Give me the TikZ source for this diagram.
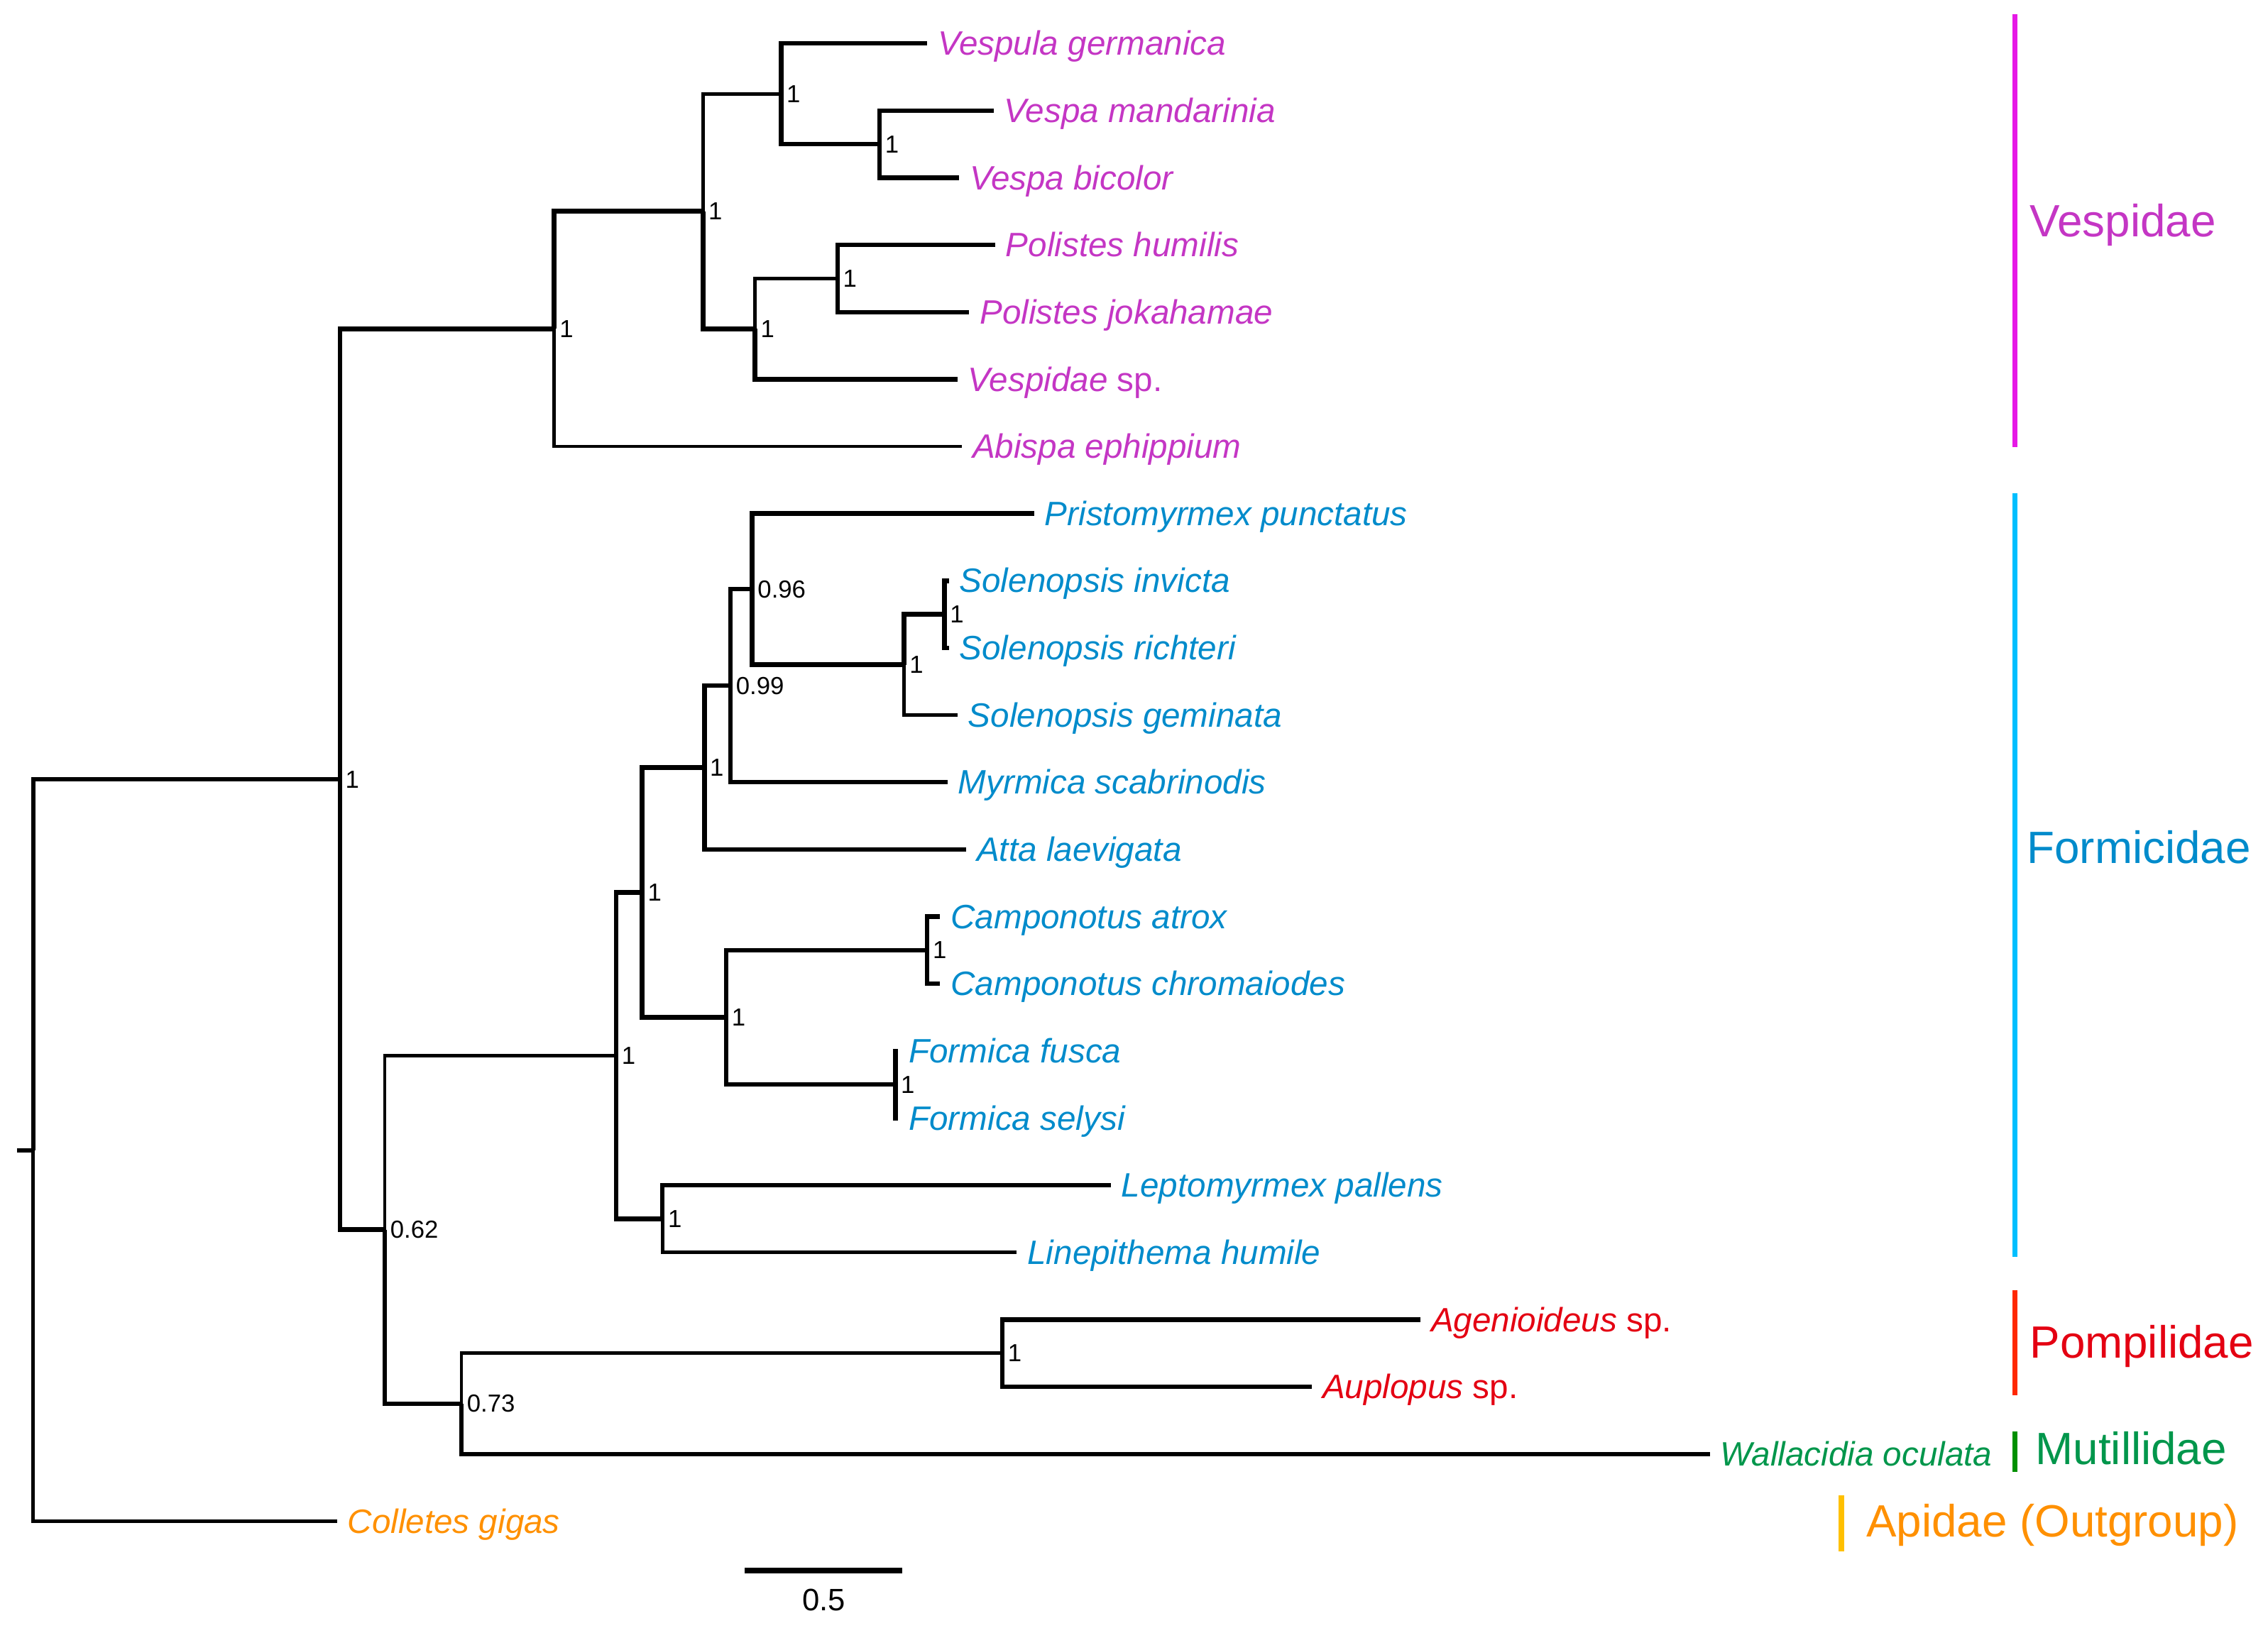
\documentclass[tikz,border=0pt]{standalone}
\usepackage{fontspec}
\setmainfont{Liberation Sans}
\usepackage{tikz}
\usepackage{xcolor}
\usetikzlibrary{
    positioning,
    calc
}
\definecolor{vesp}{RGB}{196,54,196}
\definecolor{vespbar}{RGB}{230,25,230}
\definecolor{form}{RGB}{0,139,203}
\definecolor{formbar}{RGB}{0,191,255}
\definecolor{pomp}{RGB}{228,0,18}
\definecolor{pompbar}{RGB}{255,40,0}
\definecolor{muti}{RGB}{0,150,75}
\definecolor{mutibar}{RGB}{0,144,0}
\definecolor{apid}{RGB}{255,144,0}
\definecolor{apidbar}{RGB}{255,192,0}

\begin{document}
\begin{tikzpicture}[x=0.02cm, y=-0.02cm,
                        br/.style={line width=1.8pt},
                        brthin/.style={line width=1.35pt},
                        taxon/.style={font=\fontsize{13.3}{16}\selectfont\itshape, inner sep=0pt, text height=10.6pt, text depth=1.3pt},
                        supp/.style={font=\fontsize{9.7}{11}\selectfont, inner sep=0pt},
                        clade/.style={font=\fontsize{17.8}{21}\selectfont, inner sep=0pt, anchor=west, text height=14.2pt, text depth=1.8pt},
                        cbar/.style={line width=2.1pt}]
                        \useasboundingbox (0,0) rectangle (1568,1129);

                        \coordinate (rootstem) at (12,795.4);
                        \coordinate (root) at (23,795.4);
                        \coordinate (nA) at (235,538.9);
                        \coordinate (nV) at (383,227.4);
                        \coordinate (nV1) at (486,146.1);
                        \coordinate (nV2) at (540,64.9);
                        \coordinate (nVespa) at (608,99.7);
                        \coordinate (nV3) at (522,227.4);
                        \coordinate (nPol) at (579,192.6);
                        \coordinate (nB) at (266,850.3);
                        \coordinate (nF) at (426,730);
                        \coordinate (nC) at (444,617.2);
                        \coordinate (nD) at (487,530.8);
                        \coordinate (nE) at (505,474.2);
                        \coordinate (nG) at (520,407.4);
                        \coordinate (nSol) at (625,459.7);
                        \coordinate (nSol2) at (653,424.8);
                        \coordinate (nI) at (502,703.5);
                        \coordinate (nCam) at (641,657.1);
                        \coordinate (nFor) at (619,750);
                        \coordinate (nJ) at (458,842.9);
                        \coordinate (nP) at (319,970.6);
                        \coordinate (nPom) at (693,935.8);

                        \coordinate (tVg) at (641,30);
                        \coordinate (tVm) at (687,76.45);
                        \coordinate (tVb) at (663,122.9);
                        \coordinate (tPh) at (688,169.35);
                        \coordinate (tPj) at (670,215.8);
                        \coordinate (tVs) at (662,262.25);
                        \coordinate (tAe) at (665,308.7);
                        \coordinate (tPp) at (715,355.15);
                        \coordinate (tSi) at (656,401.6);
                        \coordinate (tSr) at (656,448.05);
                        \coordinate (tSg) at (662,494.5);
                        \coordinate (tMs) at (655,540.95);
                        \coordinate (tAl) at (668,587.4);
                        \coordinate (tCa) at (650,633.85);
                        \coordinate (tCc) at (650,680.3);
                        \coordinate (tFf) at (621,726.75);
                        \coordinate (tFs) at (621,773.2);
                        \coordinate (tLp) at (768,819.65);
                        \coordinate (tLh) at (703,866.1);
                        \coordinate (tAg) at (982,912.55);
                        \coordinate (tAu) at (907,959);
                        \coordinate (tWo) at (1182,1005.45);
                        \coordinate (tCg) at (233,1051.9);

                        \draw[br] (rootstem) -- (root);
                        \draw[br] (root) |- (nA);
                        \draw[brthin] (root) |- (tCg);
                        \draw[br] (nA) |- (nV);
                        \draw[br] (nA) |- (nB);
                        \draw[br] (nV) |- (nV1);
                        \draw[brthin] (nV) |- (tAe);
                        \draw[brthin] (nV1) |- (nV2);
                        \draw[br] (nV1) |- (nV3);
                        \draw[br] (nV2) |- (tVg);
                        \draw[br] (nV2) |- (nVespa);
                        \draw[br] (nVespa) |- (tVm);
                        \draw[br] (nVespa) |- (tVb);
                        \draw[brthin] (nV3) |- (nPol);
                        \draw[br] (nV3) |- (tVs);
                        \draw[br] (nPol) |- (tPh);
                        \draw[br] (nPol) |- (tPj);
                        \draw[brthin] (nB) |- (nF);
                        \draw[br] (nB) |- (nP);
                        \draw[br] (nF) |- (nC);
                        \draw[br] (nF) |- (nJ);
                        \draw[br] (nC) |- (nD);
                        \draw[br] (nC) |- (nI);
                        \draw[br] (nD) |- (nE);
                        \draw[br] (nD) |- (tAl);
                        \draw[br] (nE) |- (nG);
                        \draw[br] (nE) |- (tMs);
                        \draw[br] (nG) |- (tPp);
                        \draw[br] (nG) |- (nSol);
                        \draw[br] (nSol) |- (nSol2);
                        \draw[brthin] (nSol) |- (tSg);
                        \draw[br] (nSol2) |- (tSi);
                        \draw[br] (nSol2) |- (tSr);
                        \draw[br] (nI) |- (nCam);
                        \draw[br] (nI) |- (nFor);
                        \draw[br] (nCam) |- (tCa);
                        \draw[br] (nCam) |- (tCc);
                        \draw[br] (nFor) |- (tFf);
                        \draw[br] (nFor) |- (tFs);
                        \draw[br] (nJ) |- (tLp);
                        \draw[brthin] (nJ) |- (tLh);
                        \draw[brthin] (nP) |- (nPom);
                        \draw[br] (nP) |- (tWo);
                        \draw[br] (nPom) |- (tAg);
                        \draw[br] (nPom) |- (tAu);

                        \node[supp, right=2pt of nA] (sA) {1};
                        \node[supp, right=2pt of nV] (sV) {1};
                        \node[supp, right=2pt of nV1] (sV1) {1};
                        \node[supp, right=2pt of nV2] (sV2) {1};
                        \node[supp, right=2pt of nVespa] (sVespa) {1};
                        \node[supp, right=2pt of nV3] (sV3) {1};
                        \node[supp, right=2pt of nPol] (sPol) {1};
                        \node[supp, right=2pt of nB] (sB) {0.62};
                        \node[supp, right=2pt of nF] (sF) {1};
                        \node[supp, right=2pt of nC] (sC) {1};
                        \node[supp, right=2pt of nD] (sD) {1};
                        \node[supp, right=2pt of nE] (sE) {0.99};
                        \node[supp, right=2pt of nG] (sG) {0.96};
                        \node[supp, right=2pt of nSol] (sSol) {1};
                        \node[supp, right=2pt of nSol2] (sSol2) {1};
                        \node[supp, right=2pt of nI] (sI) {1};
                        \node[supp, right=2pt of nCam] (sCam) {1};
                        \node[supp, right=2pt of nFor] (sFor) {1};
                        \node[supp, right=2pt of nJ] (sJ) {1};
                        \node[supp, right=2pt of nP] (sP) {0.73};
                        \node[supp, right=2pt of nPom] (sPom) {1};

                        \node[taxon, text=vesp, right=4pt of tVg] (Vg) {Vespula germanica};
                        \node[taxon, text=vesp, right=4pt of tVm] (Vm) {Vespa mandarinia};
                        \node[taxon, text=vesp, right=4pt of tVb] (Vb) {Vespa bicolor};
                        \node[taxon, text=vesp, right=4pt of tPh] (Ph) {Polistes humilis};
                        \node[taxon, text=vesp, right=4pt of tPj] (Pj) {Polistes jokahamae};
                        \node[taxon, text=vesp, right=4pt of tVs] (Vs) {Vespidae \upshape sp.};
                        \node[taxon, text=vesp, right=4pt of tAe] (Ae) {Abispa ephippium};
                        \node[taxon, text=form, right=4pt of tPp] (Pp) {Pristomyrmex punctatus};
                        \node[taxon, text=form, right=4pt of tSi] (Si) {Solenopsis invicta};
                        \node[taxon, text=form, right=4pt of tSr] (Sr) {Solenopsis richteri};
                        \node[taxon, text=form, right=4pt of tSg] (Sg) {Solenopsis geminata};
                        \node[taxon, text=form, right=4pt of tMs] (Ms) {Myrmica scabrinodis};
                        \node[taxon, text=form, right=4pt of tAl] (Al) {Atta laevigata};
                        \node[taxon, text=form, right=4pt of tCa] (Ca) {Camponotus atrox};
                        \node[taxon, text=form, right=4pt of tCc] (Cc) {Camponotus chromaiodes};
                        \node[taxon, text=form, right=4pt of tFf] (Ff) {Formica fusca};
                        \node[taxon, text=form, right=4pt of tFs] (Fs) {Formica selysi};
                        \node[taxon, text=form, right=4pt of tLp] (Lp) {Leptomyrmex pallens};
                        \node[taxon, text=form, right=4pt of tLh] (Lh) {Linepithema humile};
                        \node[taxon, text=pomp, right=4pt of tAg] (Ag) {Agenioideus \upshape sp.};
                        \node[taxon, text=pomp, right=4pt of tAu] (Au) {Auplopus \upshape sp.};
                        \node[taxon, text=muti, right=4pt of tWo] (Wo) {Wallacidia oculata};
                        \node[taxon, text=apid, right=4pt of tCg] (Cg) {Colletes gigas};

                        \draw[cbar, vespbar] (1393,10) -- (1393,309);
                        \draw[cbar, formbar] (1393,341) -- (1393,869);
                        \draw[cbar, pompbar] (1393,892) -- (1393,965);
                        \draw[cbar, mutibar] (1393,990) -- (1393,1018);
                        \draw[cbar, apidbar] (1273,1034) -- (1273,1073);

                        \node[clade, text=vesp] (Vespidae) at (1403,153) {Vespidae};
                        \node[clade, text=form] (Formicidae) at (1401,586) {Formicidae};
                        \node[clade, text=pomp] (Pompilidae) at (1403,928) {Pompilidae};
                        \node[clade, text=muti] (Mutillidae) at (1407,1002) {Mutillidae};
                        \node[clade, text=apid] (Apidae) at (1290,1052) {Apidae (Outgroup)};

                        \coordinate (sb1) at (515,1086);
                        \coordinate (sb2) at (624,1086);
                        \draw[line width=2.3pt] (sb1) -- (sb2);
                        \node[font=\fontsize{12.2}{14}\selectfont, inner sep=0pt, below=7pt of $(sb1)!0.5!(sb2)$] (sblab) {0.5};
                    \end{tikzpicture}
\end{document}
